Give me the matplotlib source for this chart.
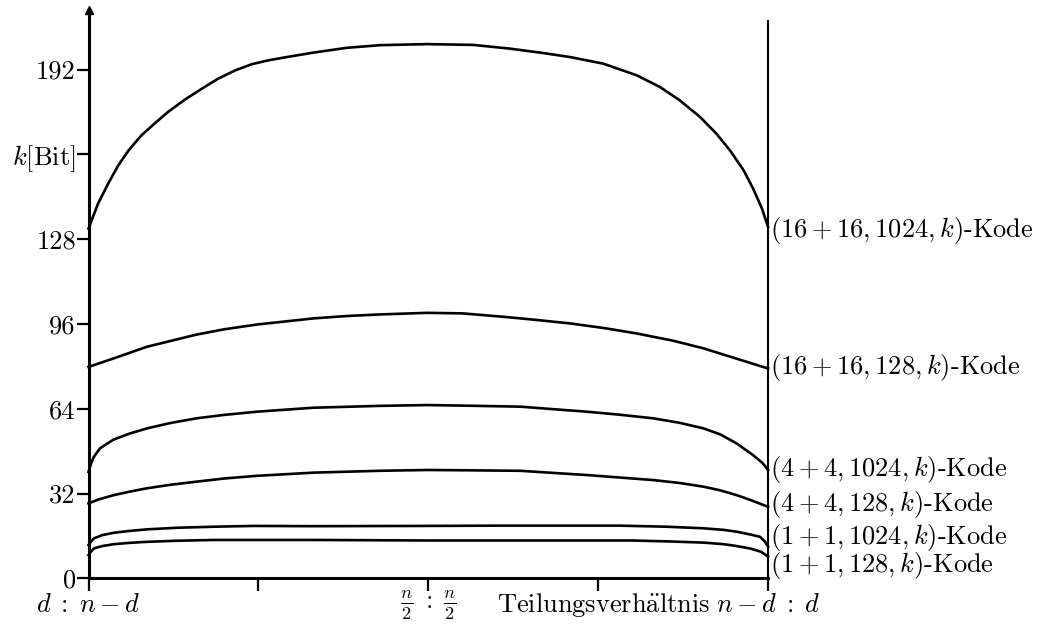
import matplotlib
matplotlib.use('Agg')
import matplotlib.pyplot as plt

plt.rcParams['font.family'] = ['cmr10', 'DejaVu Serif']
plt.rcParams['mathtext.fontset'] = 'cm'
plt.rcParams['axes.unicode_minus'] = False

# x: Teilungsverhaeltnis, 0 = d:n-d, 0.5 = n/2:n/2, 1 = n-d:d
x_16_1024 = [0, 0.014, 0.029, 0.044, 0.059, 0.078, 0.098, 0.117, 0.142, 0.167, 0.191, 0.216,
             0.240, 0.265, 0.287, 0.331, 0.38, 0.429, 0.498, 0.566, 0.62, 0.67, 0.709, 0.758,
             0.807, 0.841, 0.870, 0.900, 0.924, 0.944, 0.964, 0.978, 0.991, 1.0]
k_16_1024 = [132.0, 141.4, 149.0, 155.9, 161.5, 167.2, 171.8, 176.0, 180.7, 184.8, 188.6, 191.7,
             194.0, 195.5, 196.5, 198.4, 200.2, 201.2, 201.6, 201.3, 199.9, 198.2, 196.7, 194.2,
             189.8, 185.4, 180.4, 174.1, 167.8, 161.5, 154.0, 147.1, 139.6, 132.6]

x_16_128 = [0, 0.037, 0.086, 0.159, 0.2, 0.248, 0.331, 0.38, 0.429, 0.498, 0.55, 0.611, 0.66,
            0.709, 0.76, 0.807, 0.86, 0.905, 0.95, 1.0]
k_16_128 = [79.8, 83.0, 87.4, 92.0, 94.0, 95.8, 98.1, 99.0, 99.6, 100.2, 100.0, 98.7, 97.5,
            96.2, 94.4, 92.4, 89.7, 86.8, 83.2, 79.2]

x_4_1024 = [0, 0.004, 0.008, 0.017, 0.037, 0.06, 0.086, 0.12, 0.159, 0.2, 0.248, 0.331, 0.429,
            0.498, 0.55, 0.635, 0.733, 0.78, 0.831, 0.87, 0.905, 0.93, 0.954, 0.978, 0.992, 1.0]
k_4_1024 = [40.2, 43.5, 45.9, 49.1, 52.4, 54.6, 56.6, 58.6, 60.4, 61.7, 62.9, 64.4, 65.1,
            65.4, 65.2, 64.8, 62.9, 61.8, 60.4, 58.7, 56.6, 54.3, 50.9, 46.5, 43.5, 40.9]

x_4_128 = [0, 0.015, 0.037, 0.06, 0.086, 0.12, 0.159, 0.2, 0.248, 0.331, 0.429, 0.498, 0.55,
           0.635, 0.733, 0.831, 0.87, 0.905, 0.93, 0.954, 0.975, 1.0]
k_4_128 = [28.3, 29.8, 31.4, 32.7, 34.0, 35.3, 36.5, 37.7, 38.7, 39.9, 40.6, 40.9, 40.8,
           40.6, 39.0, 37.1, 36.0, 34.6, 33.2, 31.4, 29.5, 27.0]

x_1_1024 = [0, 0.004, 0.008, 0.02, 0.037, 0.06, 0.086, 0.13, 0.184, 0.243, 0.331, 0.498, 0.6,
            0.782, 0.85, 0.905, 0.935, 0.954, 0.975, 0.988, 0.995, 1.0]
k_1_1024 = [12.6, 14.0, 15.1, 16.3, 17.2, 17.9, 18.5, 19.1, 19.5, 19.8, 19.7, 19.8, 19.9,
            19.9, 19.5, 18.9, 18.3, 17.6, 16.5, 15.7, 14.0, 12.0]

x_1_128 = [0, 0.004, 0.008, 0.02, 0.037, 0.06, 0.086, 0.13, 0.184, 0.331, 0.498, 0.8, 0.86,
           0.905, 0.935, 0.954, 0.975, 0.99, 1.0]
k_1_128 = [8.8, 10.2, 11.3, 12.2, 12.9, 13.4, 13.8, 14.2, 14.5, 14.5, 14.3, 14.3, 13.9,
           13.5, 12.9, 12.2, 11.2, 10.0, 8.2]

series = [
    (x_16_1024, k_16_1024, r'$(16+16,1024,k)$-Kode', 131.3),
    (x_16_128, k_16_128, r'$(16+16,128,k)$-Kode', 79.7),
    (x_4_1024, k_4_1024, r'$(4+4,1024,k)$-Kode', 40.9),
    (x_4_128, k_4_128, r'$(4+4,128,k)$-Kode', 27.7),
    (x_1_1024, k_1_1024, r'$(1+1,1024,k)$-Kode', 15.6),
    (x_1_128, k_1_128, r'$(1+1,128,k)$-Kode', 4.7),
]

y_ticks = [0, 32, 64, 96, 128, 160, 192]
y_tick_labels = ['0', '32', '64', '96', '128', r'$k[\mathrm{Bit}]$', '192']
x_ticks = [0, 0.25, 0.5, 0.75, 1.0]
x_tick_labels = [r'$d\;:\;n-d$', '', r'$\frac{n}{2}\;:\;\frac{n}{2}$', '', r'$n-d\;:\;d$']

fig = plt.figure(figsize=(10.4, 6.24), dpi=100)
ax = fig.add_axes([0.0851, 0.0731, 0.6534, 0.911])
ax.set_xlim(0, 1)
ax.set_ylim(0, 214.5)

for xs, ks, label, ly in series:
    ax.plot(xs, ks, color='black', lw=1.9, clip_on=False)
    ax.text(1.003, ly, label, fontsize=19, va='center', ha='left')

ax.plot([1, 1], [0, 210.5], color='black', lw=1.5, clip_on=False)

for s in ['top', 'right']:
    ax.spines[s].set_visible(False)
for s in ['left', 'bottom']:
    ax.spines[s].set_linewidth(2.2)

ax.plot(0, 1, marker='^', color='black', ms=6, transform=ax.transAxes, clip_on=False)

ax.set_yticks(y_ticks)
ax.set_yticklabels(y_tick_labels, fontsize=19)
ax.set_xticks(x_ticks)
ax.set_xticklabels(x_tick_labels, fontsize=19, va='center')
ax.tick_params(axis='y', direction='out', length=8.6, width=1.6, pad=0.5)
ax.tick_params(axis='x', direction='out', length=9.4, width=1.6, pad=9.8)

ax.text(0.758, -0.0468, 'Teilungsverh' + r'$\ddot{\mathrm{a}}$' + 'ltnis', transform=ax.transAxes,
        fontsize=19, ha='center', va='center')

fig.savefig('out.png', dpi=100)
